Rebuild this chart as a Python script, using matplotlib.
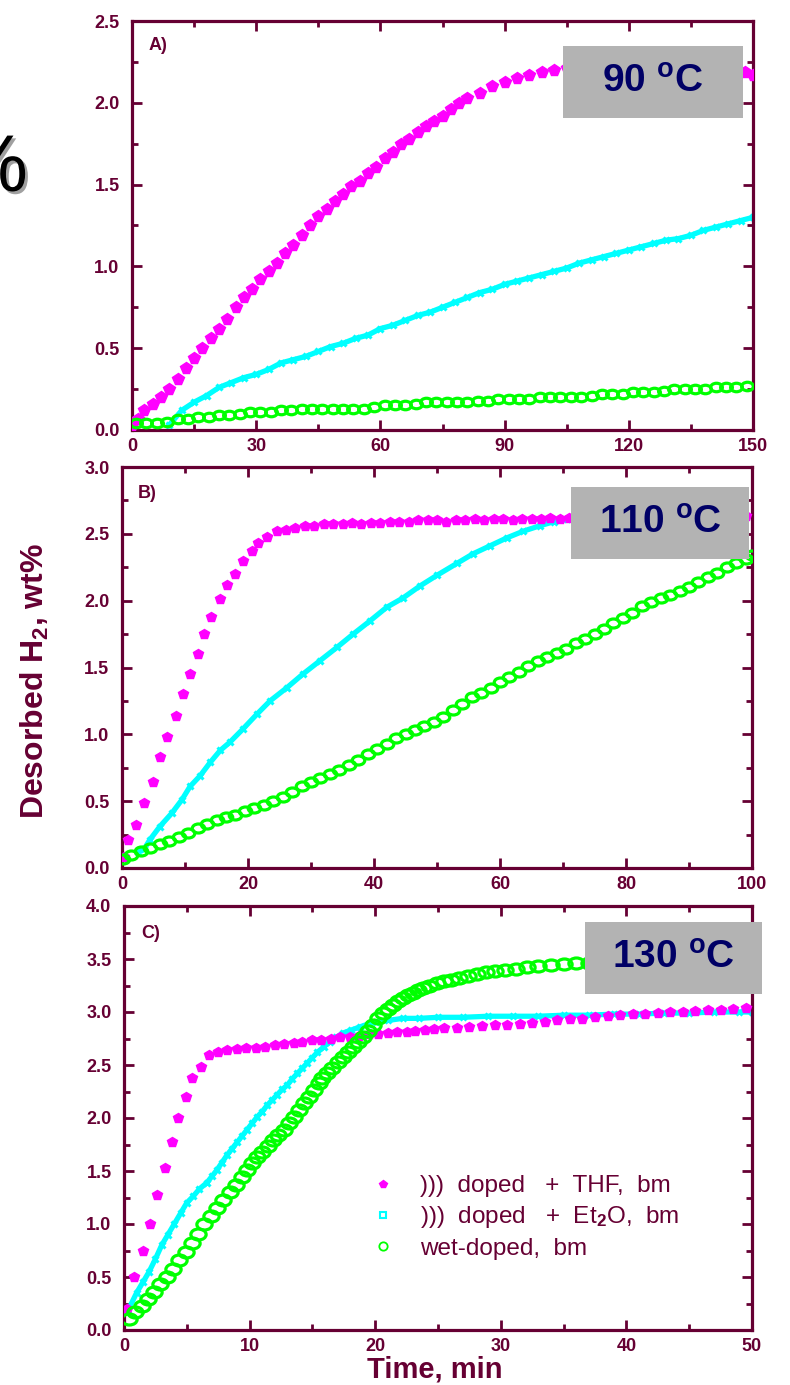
import matplotlib
matplotlib.use("Agg")
import matplotlib.pyplot as plt
import matplotlib.patheffects as pe
from matplotlib.lines import Line2D
from matplotlib.patches import Rectangle
from matplotlib.path import Path
from matplotlib.ticker import MultipleLocator, FormatStrFormatter

W, H = 790, 1385
MAROON = "#660033"
MAGENTA = "#FF00FF"
CYAN = "#00FFFF"
GREEN = "#00FF00"
NAVY = "#000066"
BOXGRAY = "#B3B3B3"

plt.rcParams["font.family"] = ["Liberation Sans", "DejaVu Sans"]
plt.rcParams["font.weight"] = "bold"
plt.rcParams["mathtext.fontset"] = "custom"
plt.rcParams["mathtext.rm"] = "Liberation Sans"
plt.rcParams["mathtext.bf"] = "Liberation Sans:bold"
plt.rcParams["mathtext.it"] = "Liberation Sans:italic"

# ---- A) 90 oC ----
a_thf_t = [0, 1.5, 3, 5, 7, 9, 11, 13, 15, 17, 19, 21, 23, 25, 27, 29, 31, 33, 35, 37,
           39, 41, 43, 45, 47, 49, 51, 53, 55, 57, 59, 61, 63, 65, 67, 69, 71, 73, 75, 77,
           79, 81, 84, 87, 90, 93, 96, 99, 102, 105, 110, 115, 120, 125, 130, 135, 140,
           145, 148, 150]
a_thf_v = [0.03, 0.07, 0.12, 0.16, 0.20, 0.25, 0.31, 0.38, 0.44, 0.50, 0.56, 0.62, 0.68,
           0.75, 0.81, 0.86, 0.92, 0.97, 1.02, 1.08, 1.13, 1.19, 1.25, 1.31, 1.35, 1.40,
           1.44, 1.49, 1.52, 1.57, 1.61, 1.66, 1.70, 1.75, 1.78, 1.82, 1.86, 1.89, 1.92,
           1.96, 2.00, 2.03, 2.06, 2.10, 2.13, 2.15, 2.17, 2.19, 2.20, 2.21, 2.21, 2.22,
           2.22, 2.21, 2.22, 2.22, 2.21, 2.20, 2.19, 2.17]
a_et2o_t = [9, 12, 15, 18, 21, 24, 27, 30, 33, 36, 39, 42, 45, 48, 51, 54, 57, 60, 63, 66,
            69, 72, 75, 78, 81, 84, 87, 90, 93, 96, 99, 102, 105, 108, 111, 114, 117, 120,
            123, 126, 129, 132, 135, 138, 141, 144, 147, 150]
a_et2o_v = [0.03, 0.12, 0.17, 0.21, 0.26, 0.29, 0.32, 0.34, 0.37, 0.41, 0.43, 0.45, 0.48,
            0.51, 0.53, 0.56, 0.58, 0.62, 0.64, 0.67, 0.70, 0.72, 0.75, 0.78, 0.81, 0.84,
            0.86, 0.89, 0.91, 0.93, 0.95, 0.97, 0.99, 1.02, 1.04, 1.06, 1.08, 1.10, 1.12,
            1.14, 1.16, 1.17, 1.19, 1.22, 1.24, 1.26, 1.28, 1.30]
a_wet_t = [1, 3.5, 6, 8.5, 11, 13.5, 16, 18.5, 21, 23.5, 26, 28.5, 31, 33.5, 36, 38.5, 41,
           43.5, 46, 48.5, 51, 53.5, 56, 58.5, 61, 63.5, 66, 68.5, 71, 73.5, 76, 78.5, 81,
           83.5, 86, 88.5, 91, 93.5, 96, 98.5, 101, 103.5, 106, 108.5, 111, 113.5, 116,
           118.5, 121, 123.5, 126, 128.5, 131, 133.5, 136, 138.5, 141, 143.5, 146, 148.5]
a_wet_v = [0.04, 0.04, 0.04, 0.05, 0.07, 0.07, 0.08, 0.08, 0.09, 0.09, 0.10, 0.11, 0.11,
           0.11, 0.12, 0.12, 0.13, 0.13, 0.13, 0.13, 0.13, 0.13, 0.13, 0.14, 0.15, 0.15,
           0.15, 0.16, 0.17, 0.17, 0.17, 0.17, 0.17, 0.18, 0.18, 0.19, 0.19, 0.19, 0.19,
           0.20, 0.20, 0.20, 0.20, 0.20, 0.21, 0.22, 0.22, 0.22, 0.23, 0.23, 0.23, 0.24,
           0.25, 0.25, 0.25, 0.25, 0.26, 0.26, 0.26, 0.27]

# ---- B) 110 oC ----
b_thf_t = [0.3, 1.0, 2.3, 3.5, 4.9, 6.0, 7.2, 8.5, 9.7, 10.8, 12.0, 13.0, 14.2, 15.6, 16.6,
           17.9, 19.2, 20.6, 21.6, 23.0, 24.6, 26, 27.5, 29, 30.5, 32, 33.5, 35, 36.5, 38,
           39.5, 41, 42.5, 44, 45.5, 47, 48.5, 50, 51.5, 53, 54.5, 56, 57.5, 59, 60.5, 62,
           63.5, 65, 66.5, 68, 69.5, 71, 75, 80, 85, 90, 95, 99]
b_thf_v = [0.08, 0.21, 0.32, 0.49, 0.64, 0.83, 0.98, 1.14, 1.30, 1.45, 1.60, 1.75, 1.88,
           2.01, 2.12, 2.20, 2.30, 2.37, 2.43, 2.48, 2.52, 2.53, 2.54, 2.56, 2.56, 2.57,
           2.57, 2.57, 2.58, 2.57, 2.58, 2.58, 2.59, 2.59, 2.59, 2.60, 2.60, 2.60, 2.59,
           2.60, 2.60, 2.61, 2.60, 2.61, 2.61, 2.60, 2.61, 2.61, 2.61, 2.62, 2.61, 2.62,
           2.62, 2.62, 2.63, 2.63, 2.63, 2.63]
b_et2o_t = [2.5, 3.5, 4.4, 6, 7.9, 9.5, 10.8, 12.4, 14, 15.6, 17.1, 19.2, 21.4, 23.5, 26.2,
            28.7, 31.4, 34.1, 36.7, 39.4, 42, 44.6, 47.3, 50, 53.2, 55.7, 58.4, 61.1, 63.7,
            66.3, 68.5, 70.6, 72]
b_et2o_v = [0.12, 0.14, 0.21, 0.31, 0.41, 0.51, 0.61, 0.69, 0.79, 0.88, 0.94, 1.04, 1.15,
            1.25, 1.35, 1.45, 1.55, 1.65, 1.75, 1.85, 1.95, 2.02, 2.11, 2.19, 2.28, 2.35,
            2.41, 2.47, 2.52, 2.56, 2.59, 2.61, 2.62]
b_wet_t = [0.2, 1.5, 3, 4.5, 6, 7.5, 9, 10.5, 12, 13.5, 15, 16.5, 18, 19.5, 21, 22.5, 24,
           25.5, 27, 28.5, 30, 31.5, 33, 34.5, 36, 37.5, 39, 40.5, 42, 43.5, 45, 46.5, 48,
           49.5, 51, 52.5, 54, 55.5, 57, 58.5, 60, 61.5, 63, 64.5, 66, 67.5, 69, 70.5, 72,
           73.5, 75, 76.5, 78, 79.5, 81, 82.5, 84, 85.5, 87, 88.5, 90, 91.5, 93, 94.5, 96,
           97.5, 99, 100]
b_wet_v = [0.07, 0.10, 0.13, 0.15, 0.18, 0.20, 0.23, 0.26, 0.30, 0.33, 0.36, 0.38, 0.40,
           0.43, 0.45, 0.47, 0.50, 0.53, 0.57, 0.61, 0.64, 0.67, 0.70, 0.73, 0.77, 0.81,
           0.85, 0.89, 0.93, 0.97, 1.00, 1.03, 1.06, 1.09, 1.13, 1.18, 1.23, 1.28, 1.31,
           1.35, 1.39, 1.43, 1.47, 1.51, 1.55, 1.58, 1.61, 1.64, 1.68, 1.71, 1.75, 1.79,
           1.83, 1.87, 1.91, 1.96, 1.99, 2.02, 2.04, 2.07, 2.10, 2.14, 2.18, 2.21, 2.25,
           2.28, 2.31, 2.34]

# ---- C) 130 oC ----
c_thf_t = [0.2, 0.8, 1.5, 2.1, 2.6, 3.3, 3.8, 4.3, 4.9, 5.4, 6.1, 6.8, 7.5, 8.2, 9, 9.7,
           10.5, 11.2, 12, 12.7, 13.5, 14.2, 15, 15.7, 16.5, 17.2, 18, 18.7, 19.5, 20.2, 21,
           21.7, 22.5, 23.2, 24, 24.7, 25.5, 26.5, 27.5, 28.5, 29.5, 30.5, 31.5, 32.5, 33.5,
           34.5, 35.5, 36.5, 37.5, 38.5, 39.5, 40.5, 41.5, 42.5, 43.5, 44.5, 45.5, 46.5,
           47.5, 48.5, 49.5]
c_thf_v = [0.20, 0.50, 0.75, 1.00, 1.27, 1.53, 1.77, 2.00, 2.20, 2.38, 2.48, 2.59, 2.62,
           2.64, 2.65, 2.66, 2.66, 2.67, 2.69, 2.70, 2.71, 2.72, 2.74, 2.74, 2.75, 2.76,
           2.76, 2.77, 2.79, 2.79, 2.80, 2.81, 2.81, 2.82, 2.83, 2.84, 2.85, 2.85, 2.86,
           2.87, 2.88, 2.88, 2.89, 2.90, 2.91, 2.92, 2.93, 2.93, 2.95, 2.96, 2.97, 2.98,
           2.98, 2.99, 3.00, 3.00, 3.01, 3.02, 3.02, 3.03, 3.04]
c_et2o_t = [0.3, 1, 1.5, 2, 2.5, 3, 3.5, 4, 4.5, 5, 5.5, 6, 6.6, 7, 7.4, 7.8, 8.2, 8.6, 9,
            9.4, 9.8, 10.2, 10.6, 11, 11.4, 11.8, 12.2, 12.6, 13, 13.4, 13.8, 14.2, 14.6,
            15, 15.4, 15.9, 16.4, 16.9, 17.4, 18.1, 18.8, 19.5, 20.1, 21, 22.2, 23.5, 25,
            27, 29, 31, 33, 35, 37, 39, 41, 43, 45, 47, 49, 50]
c_et2o_v = [0.18, 0.35, 0.45, 0.55, 0.67, 0.80, 0.90, 1.00, 1.10, 1.20, 1.26, 1.33, 1.39,
            1.45, 1.51, 1.58, 1.65, 1.71, 1.77, 1.83, 1.89, 1.95, 2.01, 2.06, 2.12, 2.17,
            2.22, 2.27, 2.31, 2.37, 2.42, 2.47, 2.52, 2.57, 2.62, 2.67, 2.72, 2.76, 2.80,
            2.83, 2.86, 2.89, 2.91, 2.92, 2.94, 2.94, 2.95, 2.95, 2.96, 2.96, 2.96, 2.97,
            2.97, 2.98, 2.98, 2.99, 2.99, 3.00, 3.00, 3.00]
c_wet_t = [0.4, 0.9, 1.4, 1.9, 2.4, 2.9, 3.4, 3.9, 4.4, 4.9, 5.4, 5.9, 6.4, 6.9, 7.4, 7.9,
           8.4, 8.9, 9.4, 9.8, 10.2, 10.6, 11, 11.5, 11.9, 12.3, 12.7, 13.1, 13.5, 13.9,
           14.3, 14.7, 15.1, 15.5, 15.8, 16.2, 16.6, 17, 17.4, 17.8, 18.2, 18.6, 19, 19.4,
           19.8, 20.2, 20.6, 21, 21.4, 21.8, 22.2, 22.6, 23, 23.4, 23.8, 24.3, 24.9, 25.5,
           26, 26.7, 27.4, 28.1, 28.8, 29.5, 30.3, 31.2, 32.1, 33, 34, 35, 36, 37, 38, 40,
           42, 44, 46, 48, 50]
c_wet_v = [0.10, 0.17, 0.23, 0.29, 0.36, 0.43, 0.50, 0.58, 0.66, 0.74, 0.82, 0.91, 1.00,
           1.08, 1.15, 1.23, 1.30, 1.37, 1.44, 1.51, 1.58, 1.63, 1.68, 1.74, 1.79, 1.84,
           1.89, 1.95, 2.01, 2.08, 2.14, 2.20, 2.26, 2.33, 2.38, 2.42, 2.47, 2.53, 2.58,
           2.62, 2.67, 2.72, 2.76, 2.82, 2.88, 2.94, 2.99, 3.03, 3.07, 3.10, 3.13, 3.16,
           3.18, 3.21, 3.23, 3.25, 3.27, 3.29, 3.30, 3.32, 3.34, 3.36, 3.38, 3.39, 3.40,
           3.41, 3.42, 3.43, 3.44, 3.45, 3.46, 3.46, 3.47, 3.48, 3.48, 3.49, 3.49, 3.50,
           3.50]

labels = [")))  doped   +  THF,  bm", ")))  doped   +  Et$_2$O,  bm", "wet-doped,  bm"]

# ellipse marker (the original circles look squashed)
circ = Path.unit_circle()
ELLIPSE = Path(circ.vertices * [1.0, 0.72], circ.codes)


def px_axes(fig, left, top, right, bottom):
    return fig.add_axes([left / W, 1 - bottom / H, (right - left) / W, (bottom - top) / H])


def style(ax, xmax, xmaj, ymax):
    ax.set_xlim(0, xmax)
    ax.set_ylim(0, ymax)
    ax.xaxis.set_major_locator(MultipleLocator(xmaj))
    ax.xaxis.set_minor_locator(MultipleLocator(xmaj / 2))
    ax.yaxis.set_major_locator(MultipleLocator(0.5))
    ax.yaxis.set_minor_locator(MultipleLocator(0.25))
    ax.yaxis.set_major_formatter(FormatStrFormatter("%.1f"))
    for s in ax.spines.values():
        s.set_color(MAROON)
        s.set_linewidth(2.3)
    ax.tick_params(which="both", direction="in", top=True, right=True,
                   color=MAROON, labelcolor=MAROON, labelsize=13)
    ax.tick_params(axis="y", pad=9)
    ax.tick_params(axis="x", pad=6)
    ax.tick_params(which="major", length=7, width=2)
    ax.tick_params(which="minor", length=4.5, width=2)


def draw(ax, thf, et2o, wet, ms_p, ms_w):
    ax.plot(et2o[0], et2o[1], color=CYAN, lw=3.8, marker="x", ms=5, mew=2.2,
            zorder=2)
    ax.plot(thf[0], thf[1], ls="none", color=MAGENTA, marker="p", ms=ms_p, zorder=3)
    ax.plot(wet[0], wet[1], ls="none", marker=ELLIPSE, ms=ms_w, mfc="none",
            mec=GREEN, mew=2.3, zorder=4)


def temp_box(fig, left, top, right, bottom, txt):
    fig.add_artist(Rectangle((left / W, 1 - bottom / H), (right - left) / W,
                             (bottom - top) / H, transform=fig.transFigure,
                             facecolor=BOXGRAY, edgecolor="none", zorder=5))
    fig.text((left + right) / 2 / W, 1 - (top + bottom) / 2 / H, txt, color=NAVY,
             fontsize=28, fontweight="bold", ha="center", va="center", zorder=6)


fig = plt.figure(figsize=(W / 100, H / 100), dpi=100)

axA = px_axes(fig, 132, 21, 753, 430)
style(axA, 150, 30, 2.5)
draw(axA, (a_thf_t, a_thf_v), (a_et2o_t, a_et2o_v), (a_wet_t, a_wet_v), 8.5, 8.5)
axA.text(0.027, 0.94, "A)", transform=axA.transAxes, color=MAROON, fontsize=13,
         fontweight="bold", va="center")

axB = px_axes(fig, 122, 467, 752, 868)
style(axB, 100, 20, 3.0)
draw(axB, (b_thf_t, b_thf_v), (b_et2o_t, b_et2o_v), (b_wet_t, b_wet_v), 7.5, 9)
axB.text(0.025, 0.935, "B)", transform=axB.transAxes, color=MAROON, fontsize=13,
         fontweight="bold", va="center")

axC = px_axes(fig, 124, 906, 752, 1330)
style(axC, 50, 10, 4.0)
draw(axC, (c_thf_t, c_thf_v), (c_et2o_t, c_et2o_v), (c_wet_t, c_wet_v), 7, 11)
axC.text(0.028, 0.935, "C)", transform=axC.transAxes, color=MAROON, fontsize=13,
         fontweight="bold", va="center")

handles = [
    Line2D([], [], ls="none", marker="p", ms=6, color=MAGENTA),
    Line2D([], [], ls="none", marker="s", ms=4, mfc="none", mec=CYAN, mew=1.5),
    Line2D([], [], ls="none", marker="o", ms=6, mfc="none", mec=GREEN, mew=1.3),
]
axC.legend(handles, labels, loc="upper left", bbox_to_anchor=(371 / W, 1 - 1175 / H),
           bbox_transform=fig.transFigure, frameon=False, handlelength=1.0,
           handletextpad=1.0, labelspacing=0.3, borderpad=0, borderaxespad=0,
           prop={"family": "Liberation Sans", "weight": "normal", "size": 17.5},
           labelcolor=MAROON)

temp_box(fig, 563, 46, 743, 118, "90 $^\\mathbf{o}$C")
temp_box(fig, 571, 487, 749, 559, "110 $^\\mathbf{o}$C")
temp_box(fig, 585, 922, 762, 994, "130 $^\\mathbf{o}$C")

fig.text(35 / W, 1 - 681 / H, "Desorbed H$_\\mathbf{2}$, wt%", rotation=90,
         color=MAROON, fontsize=23, fontweight="bold", ha="center", va="center")
fig.text(435 / W, 1 - 1370 / H, "Time, min", color=MAROON, fontsize=21,
         fontweight="bold", ha="center", va="center")

# leftover "%" cut off at the left edge of the original figure
fig.text(28 / W, 1 - 170 / H, "%", color="black", fontsize=58, fontweight="normal",
         ha="right", va="center",
         path_effects=[pe.withSimplePatchShadow(offset=(2, -2), shadow_rgbFace="#A0A0A0",
                                                alpha=1.0)])

fig.savefig("out.png", dpi=100)
